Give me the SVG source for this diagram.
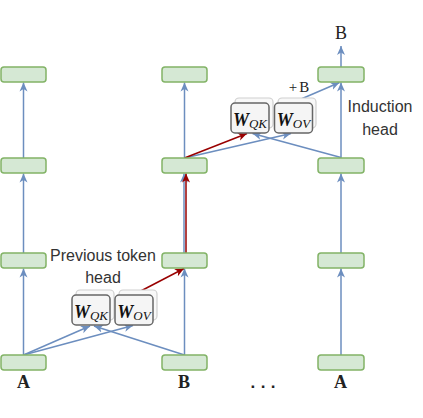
<svg xmlns="http://www.w3.org/2000/svg" width="423" height="418" viewBox="0 0 423 418">
<style>
.box{fill:#d5e8d4;stroke:#82b366;stroke-width:1.5}
.wb{fill:#f5f5f5;stroke:#666;stroke-width:1.5}
.ws{fill:#f8f8f8;stroke:#cfcfcf;stroke-width:1.2}
.bl{stroke:#6c8ebf;stroke-width:1.5;fill:none}
.rd{stroke:#990000;stroke-width:1.5;fill:none}
.tok{font-family:"Liberation Serif","Times New Roman",serif;font-size:18px;font-weight:bold;fill:#222;text-anchor:middle}
.tokl{font-family:"Liberation Serif","Times New Roman",serif;font-size:18px;fill:#222;text-anchor:middle}
.dots{font-family:"Liberation Mono",monospace;font-size:17px;font-weight:bold;fill:#222;text-anchor:middle}
.lab{font-family:"Liberation Sans",Arial,sans-serif;font-size:16px;fill:#333;text-anchor:middle}
.w{font-family:"Liberation Serif","Times New Roman",serif;fill:#111;text-anchor:middle}
.wm{font-size:18px;font-weight:bold;font-style:italic}
.ws2{font-size:13px;font-style:italic}
</style>
<defs>
<marker id="ab" markerUnits="userSpaceOnUse" markerWidth="10" markerHeight="10" viewBox="0 0 10 10" refX="9" refY="5" orient="auto">
<path d="M0,1 L9,5 L0,9 L2.5,5 z" fill="#6c8ebf"/>
</marker>
<marker id="ar" markerUnits="userSpaceOnUse" markerWidth="10" markerHeight="10" viewBox="0 0 10 10" refX="9" refY="5" orient="auto">
<path d="M0,1 L9,5 L0,9 L2.5,5 z" fill="#990000"/>
</marker>
</defs>
<g id="connectors">
<line class="bl" x1="23.5" y1="355" x2="23.5" y2="268.5" marker-end="url(#ab)"/>
<line class="bl" x1="23.5" y1="253" x2="23.5" y2="173.5" marker-end="url(#ab)"/>
<line class="bl" x1="23.5" y1="158" x2="23.5" y2="82.5" marker-end="url(#ab)"/>
<line class="bl" x1="184.5" y1="355" x2="184.5" y2="268.5" marker-end="url(#ab)"/>
<line class="bl" x1="184" y1="253" x2="184" y2="173.5" marker-end="url(#ab)"/>
<line class="rd" x1="186" y1="253" x2="186" y2="173.5" marker-end="url(#ar)"/>
<line class="bl" x1="184.5" y1="158" x2="184.5" y2="82.5" marker-end="url(#ab)"/>
<line class="bl" x1="341" y1="355" x2="341" y2="268.5" marker-end="url(#ab)"/>
<line class="bl" x1="341" y1="253" x2="341" y2="173.5" marker-end="url(#ab)"/>
<line class="bl" x1="341" y1="158" x2="341" y2="82.5" marker-end="url(#ab)"/>
<line class="bl" x1="341" y1="67" x2="341" y2="46" marker-end="url(#ab)"/>
<line class="bl" x1="23.5" y1="355" x2="90" y2="326" marker-end="url(#ab)"/>
<line class="bl" x1="23.5" y1="355" x2="133" y2="325.5" marker-end="url(#ab)"/>
<line class="bl" x1="184.5" y1="355" x2="94" y2="326" marker-end="url(#ab)"/>
<line class="rd" x1="135" y1="294" x2="184" y2="268.5" marker-end="url(#ar)"/>
<line class="bl" x1="184.5" y1="158" x2="291" y2="133.5" marker-end="url(#ab)"/>
<line class="rd" x1="184.5" y1="158" x2="247" y2="133.5" marker-end="url(#ar)"/>
<line class="bl" x1="341" y1="157.5" x2="252.5" y2="133.5" marker-end="url(#ab)"/>
<line class="bl" x1="293" y1="102.5" x2="339.5" y2="82.5" marker-end="url(#ab)"/>
</g>
<g id="col1">
<rect id="a1" class="box" x="1" y="67" width="45" height="15" rx="3"/>
<rect id="a2" class="box" x="1" y="158" width="45" height="15" rx="3"/>
<rect id="a3" class="box" x="1" y="253" width="45" height="15" rx="3"/>
<rect id="a4" class="box" x="1" y="355" width="45" height="15" rx="3"/>
</g>
<g id="col2">
<rect id="b1" class="box" x="162" y="67" width="45" height="15" rx="3"/>
<rect id="b2" class="box" x="162" y="158" width="45" height="15" rx="3"/>
<rect id="b3" class="box" x="162" y="253" width="45" height="15" rx="3"/>
<rect id="b4" class="box" x="162" y="355" width="45" height="15" rx="3"/>
</g>
<g id="col3">
<rect id="c1" class="box" x="318" y="67" width="46" height="15" rx="3"/>
<rect id="c2" class="box" x="318" y="158" width="46" height="15" rx="3"/>
<rect id="c3" class="box" x="318" y="253" width="46" height="15" rx="3"/>
<rect id="c4" class="box" x="318" y="355" width="46" height="15" rx="3"/>
</g>
<g id="wqk-low">
<rect class="ws" x="76" y="290" width="38" height="30" rx="4"/>
<rect class="wb" x="72" y="295" width="38" height="30" rx="4"/>
<text class="w" x="91" y="318"><tspan class="wm">W</tspan><tspan class="ws2" dy="2">QK</tspan></text>
</g>
<g id="wov-low">
<rect class="ws" x="119" y="290" width="38" height="30" rx="4"/>
<rect class="wb" x="115" y="295" width="38" height="30" rx="4"/>
<text class="w" x="134" y="318"><tspan class="wm">W</tspan><tspan class="ws2" dy="2">OV</tspan></text>
</g>
<g id="wqk-up">
<rect class="ws" x="235" y="98" width="38" height="30" rx="4"/>
<rect class="wb" x="231" y="103" width="38" height="30" rx="4"/>
<text class="w" x="250" y="126"><tspan class="wm">W</tspan><tspan class="ws2" dy="2">QK</tspan></text>
</g>
<g id="wov-up">
<rect class="ws" x="278" y="98" width="38" height="30" rx="4"/>
<rect class="wb" x="274.5" y="103" width="38" height="30" rx="4"/>
<text class="w" x="293.5" y="126"><tspan class="wm">W</tspan><tspan class="ws2" dy="2">OV</tspan></text>
</g>
<g id="labels">
<text class="tok" x="23.5" y="388">A</text>
<text class="tok" x="184" y="388">B</text>
<text class="dots" x="263" y="388">...</text>
<text class="tok" x="340.5" y="388">A</text>
<text class="tokl" x="341" y="39">B</text>
<text class="tokl" x="300" y="92" style="font-size:15px" letter-spacing="2">+B</text>
<text class="lab" x="380" y="112">Induction</text>
<text class="lab" x="380" y="135">head</text>
<text class="lab" x="103" y="261">Previous token</text>
<text class="lab" x="103" y="283">head</text>
</g>
</svg>
